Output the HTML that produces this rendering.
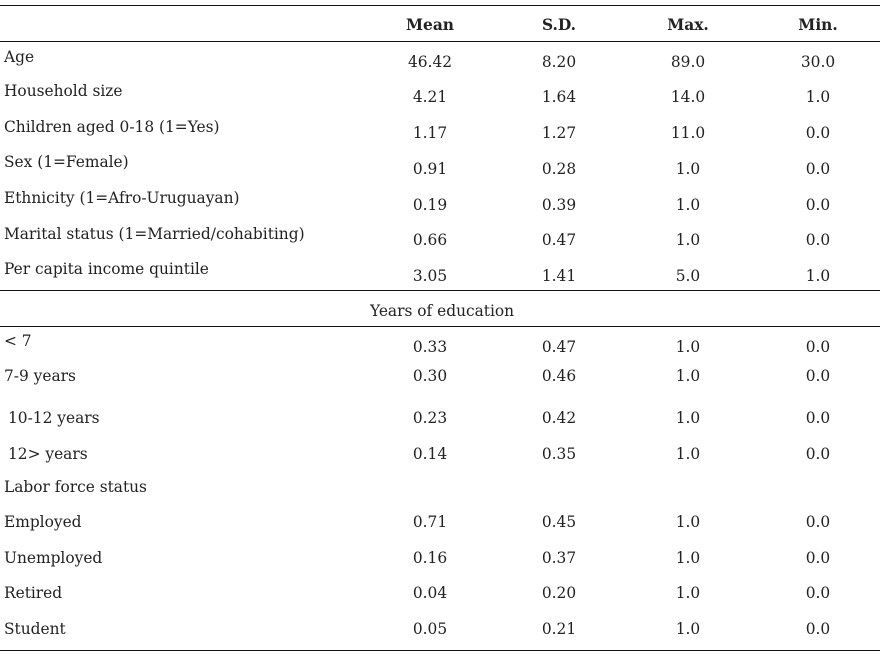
<!DOCTYPE html>
<html><head><meta charset="utf-8"><style>
body{margin:0;width:880px;height:656px;background:#fff;position:relative;font-family:"DejaVu Serif",serif;font-size:15.4px;color:#222;overflow:hidden}
.h{position:absolute;left:0;width:880px;height:1.3px;background:#111}
.t{position:absolute;line-height:16px;white-space:nowrap}
.c{position:absolute;line-height:16px;width:100px;text-align:center;margin-left:-50px}
.b{font-weight:bold}
</style></head><body>
<div class="h" style="top:5px"></div>
<div class="h" style="top:41px"></div>
<div class="h" style="top:290px"></div>
<div class="h" style="top:326px"></div>
<div class="h" style="top:650px"></div>

<div class="c b" style="left:430px;top:17px">Mean</div>
<div class="c b" style="left:559px;top:17px">S.D.</div>
<div class="c b" style="left:688px;top:17px">Max.</div>
<div class="c b" style="left:818px;top:17px">Min.</div>

<div class="t" style="left:4px;top:49px">Age</div>
<div class="c" style="left:430px;top:54px">46.42</div><div class="c" style="left:559px;top:54px">8.20</div><div class="c" style="left:688px;top:54px">89.0</div><div class="c" style="left:818px;top:54px">30.0</div>

<div class="t" style="left:4px;top:83px">Household size</div>
<div class="c" style="left:430px;top:89px">4.21</div><div class="c" style="left:559px;top:89px">1.64</div><div class="c" style="left:688px;top:89px">14.0</div><div class="c" style="left:818px;top:89px">1.0</div>

<div class="t" style="left:4px;top:119px">Children aged 0-18 (1=Yes)</div>
<div class="c" style="left:430px;top:125px">1.17</div><div class="c" style="left:559px;top:125px">1.27</div><div class="c" style="left:688px;top:125px">11.0</div><div class="c" style="left:818px;top:125px">0.0</div>

<div class="t" style="left:4px;top:154px">Sex (1=Female)</div>
<div class="c" style="left:430px;top:161px">0.91</div><div class="c" style="left:559px;top:161px">0.28</div><div class="c" style="left:688px;top:161px">1.0</div><div class="c" style="left:818px;top:161px">0.0</div>

<div class="t" style="left:4px;top:190px">Ethnicity (1=Afro-Uruguayan)</div>
<div class="c" style="left:430px;top:197px">0.19</div><div class="c" style="left:559px;top:197px">0.39</div><div class="c" style="left:688px;top:197px">1.0</div><div class="c" style="left:818px;top:197px">0.0</div>

<div class="t" style="left:4px;top:226px">Marital status (1=Married/cohabiting)</div>
<div class="c" style="left:430px;top:232px">0.66</div><div class="c" style="left:559px;top:232px">0.47</div><div class="c" style="left:688px;top:232px">1.0</div><div class="c" style="left:818px;top:232px">0.0</div>

<div class="t" style="left:4px;top:261px">Per capita income quintile</div>
<div class="c" style="left:430px;top:268px">3.05</div><div class="c" style="left:559px;top:268px">1.41</div><div class="c" style="left:688px;top:268px">5.0</div><div class="c" style="left:818px;top:268px">1.0</div>

<div class="t" style="left:370px;top:303px">Years of education</div>

<div class="t" style="left:4px;top:333px">&lt; 7</div>
<div class="c" style="left:430px;top:339px">0.33</div><div class="c" style="left:559px;top:339px">0.47</div><div class="c" style="left:688px;top:339px">1.0</div><div class="c" style="left:818px;top:339px">0.0</div>

<div class="t" style="left:4px;top:368px">7-9 years</div>
<div class="c" style="left:430px;top:368px">0.30</div><div class="c" style="left:559px;top:368px">0.46</div><div class="c" style="left:688px;top:368px">1.0</div><div class="c" style="left:818px;top:368px">0.0</div>

<div class="t" style="left:8px;top:410px">10-12 years</div>
<div class="c" style="left:430px;top:410px">0.23</div><div class="c" style="left:559px;top:410px">0.42</div><div class="c" style="left:688px;top:410px">1.0</div><div class="c" style="left:818px;top:410px">0.0</div>

<div class="t" style="left:8px;top:446px">12&gt; years</div>
<div class="c" style="left:430px;top:446px">0.14</div><div class="c" style="left:559px;top:446px">0.35</div><div class="c" style="left:688px;top:446px">1.0</div><div class="c" style="left:818px;top:446px">0.0</div>

<div class="t" style="left:4px;top:479px">Labor force status</div>

<div class="t" style="left:4px;top:514px">Employed</div>
<div class="c" style="left:430px;top:514px">0.71</div><div class="c" style="left:559px;top:514px">0.45</div><div class="c" style="left:688px;top:514px">1.0</div><div class="c" style="left:818px;top:514px">0.0</div>

<div class="t" style="left:4px;top:550px">Unemployed</div>
<div class="c" style="left:430px;top:550px">0.16</div><div class="c" style="left:559px;top:550px">0.37</div><div class="c" style="left:688px;top:550px">1.0</div><div class="c" style="left:818px;top:550px">0.0</div>

<div class="t" style="left:4px;top:585px">Retired</div>
<div class="c" style="left:430px;top:585px">0.04</div><div class="c" style="left:559px;top:585px">0.20</div><div class="c" style="left:688px;top:585px">1.0</div><div class="c" style="left:818px;top:585px">0.0</div>

<div class="t" style="left:4px;top:621px">Student</div>
<div class="c" style="left:430px;top:621px">0.05</div><div class="c" style="left:559px;top:621px">0.21</div><div class="c" style="left:688px;top:621px">1.0</div><div class="c" style="left:818px;top:621px">0.0</div>
</body></html>
